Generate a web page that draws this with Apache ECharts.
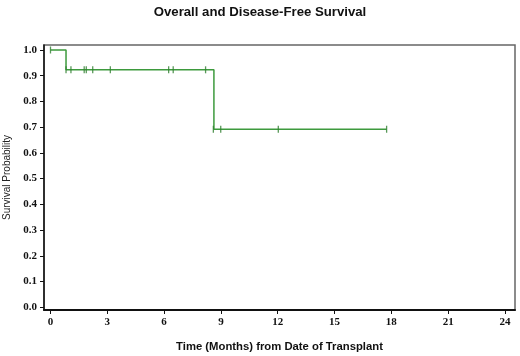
<!DOCTYPE html>
<html>
<head>
<meta charset="utf-8">
<script src="https://cdn.jsdelivr.net/npm/echarts@6/dist/echarts.min.js"></script>
<style>
html,body{margin:0;padding:0;background:#fff;}
#chart{width:520px;height:356px;}
</style>
</head>
<body>
<div id="chart"></div>
<script>
// Kaplan-Meier step points (time in months, survival probability)
const stepTimes = [0, 0.82, 8.63, 17.75];
const stepSurvival = [1.0, 0.923, 0.692, 0.692];
// Censored observations
const censorTimes = [0.0, 0.82, 1.08, 1.78, 1.89, 2.23, 3.16, 6.24, 6.48, 8.19, 8.6, 8.99, 12.03, 17.75];
const censorSurvival = [1.0, 0.923, 0.923, 0.923, 0.923, 0.923, 0.923, 0.923, 0.923, 0.923, 0.692, 0.692, 0.692, 0.692];
// Tick labels
const xTicks = [0, 3, 6, 9, 12, 15, 18, 21, 24];
const yTicks = [0, 0.1, 0.2, 0.3, 0.4, 0.5, 0.6, 0.7, 0.8, 0.9, 1.0];

const titleText = 'Overall and Disease-Free Survival';
const xTitle = 'Time (Months) from Date of Transplant';
const yTitle = 'Survival Probability';

const green = '#3d9a3d';
const chart = echarts.init(document.getElementById('chart'), null, {renderer: 'canvas'});

chart.setOption({
  animation: false,
  backgroundColor: '#ffffff',
  title: {
    text: titleText,
    left: 'center',
    top: 1,
    textStyle: {fontFamily: 'Liberation Sans, Arial, sans-serif', fontWeight: 'bold', fontSize: 13.2, color: '#111'}
  },
  grid: {
    left: 44, right: 5, top: 45, bottom: 46,
    outerBoundsMode: 'none',
    containLabel: false,
    show: true, borderColor: '#666', borderWidth: 1.5, backgroundColor: 'transparent'
  },
  xAxis: {
    type: 'value',
    min: -0.343, max: 24.53,
    name: xTitle,
    nameLocation: 'middle',
    nameGap: 31,
    nameTextStyle: {fontFamily: 'Liberation Sans, Arial, sans-serif', fontWeight: 'bold', fontSize: 11.3, color: '#111'},
    axisLine: {show: true, onZero: false, lineStyle: {color: '#111', width: 2}},
    axisTick: {show: true, customValues: xTicks, length: 4, lineStyle: {color: '#111', width: 1}},
    axisLabel: {customValues: xTicks, margin: 7, fontFamily: 'Liberation Serif, Times New Roman, serif', fontWeight: 'bold', fontSize: 11, color: '#111'},
    splitLine: {show: false}
  },
  yAxis: {
    type: 'value',
    min: -0.0105, max: 1.0194,
    name: yTitle,
    nameLocation: 'middle',
    nameGap: 30,
    nameTextStyle: {fontFamily: 'Liberation Sans, Arial, sans-serif', fontSize: 10, color: '#222'},
    axisLine: {show: true, onZero: false, lineStyle: {color: '#111', width: 1.5}},
    axisTick: {show: true, customValues: yTicks, length: 4, lineStyle: {color: '#111', width: 1}},
    axisLabel: {customValues: yTicks, margin: 7, formatter: v => v.toFixed(1), fontFamily: 'Liberation Serif, Times New Roman, serif', fontWeight: 'bold', fontSize: 11, color: '#111'},
    splitLine: {show: false}
  },
  series: [
    {
      type: 'line',
      step: 'end',
      data: stepTimes.map((t, i) => [t, stepSurvival[i]]),
      showSymbol: false,
      lineStyle: {color: green, width: 1.5},
      z: 3
    },
    {
      type: 'scatter',
      data: censorTimes.map((t, i) => [t, censorSurvival[i]]),
      symbol: 'rect',
      symbolSize: [1.3, 7],
      itemStyle: {color: '#2f7f2f'},
      z: 4
    }
  ]
});
</script>
</body>
</html>
